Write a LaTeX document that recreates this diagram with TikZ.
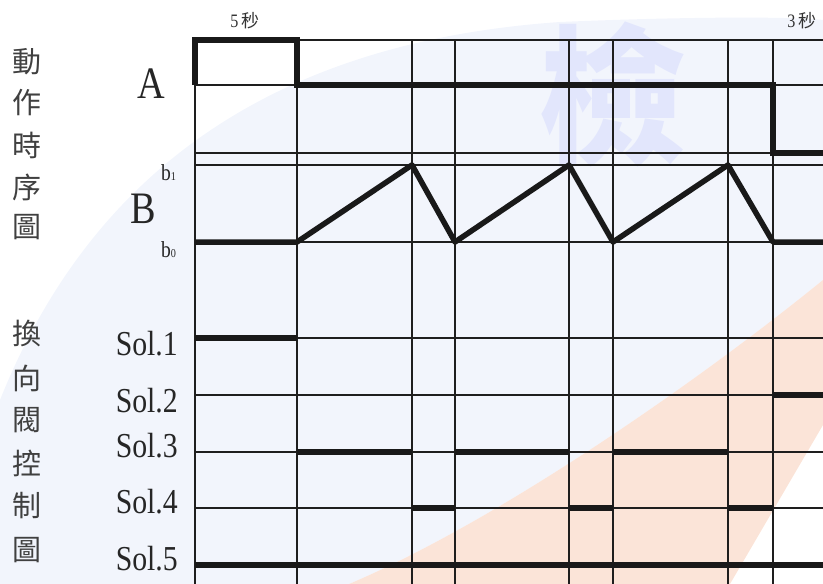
\documentclass[tikz,border=0pt]{standalone}
\usepackage{fontspec}
\setmainfont{Liberation Serif}[FakeStretch=0.85]
\newfontfamily\cjk{Noto Sans CJK TC}
\definecolor{gridc}{RGB}{30,30,30}
\definecolor{sigc}{RGB}{25,25,25}
\definecolor{tintc}{RGB}{242,245,252}
\definecolor{orangec}{RGB}{251,228,216}
\definecolor{wmc}{RGB}{226,230,252}
\begin{document}
\begin{tikzpicture}[x=1pt,y=-1pt,
  grid/.style={line width=1.6pt, draw=gridc},
  sig/.style={line width=5.5pt, draw=sigc, line join=miter},
  zig/.style={line width=5.5pt, draw=sigc, line join=round},
  cjkl/.style={font=\cjk\fontsize{29}{29}\selectfont, inner sep=0pt, text=black!75},
  big/.style={font=\fontsize{45}{45}\selectfont, inner sep=0pt, anchor=base, text=black!85},
  sollab/.style={font=\fontsize{35}{35}\selectfont, inner sep=0pt, anchor=base east, text=black!85},
  blab/.style={font=\fontsize{23}{23}\selectfont, inner sep=0pt, anchor=base west, text=black!85},
  tlab/.style={font=\fontsize{19}{19}\selectfont, inner sep=0pt, anchor=base, text=black!80}]
\useasboundingbox (0,0) rectangle (823,584);
% watermark background
\fill[tintc] (0,400) .. controls (100,150) and (300,40) .. (560,22)
  .. controls (700,16) and (800,17) .. (823,20) -- (823,280)
  .. controls (700,380) and (500,520) .. (349,584) -- (0,584) -- cycle;
\fill[orangec] (349,584) .. controls (500,520) and (700,380) .. (823,280)
  -- (823,425) -- (730,584) -- cycle;
\node[font=\cjk\bfseries\fontsize{150}{150}\selectfont, text=wmc, inner sep=0pt] (wm) at (612,95) {檢};
% grid
\foreach \yy in {85,153,165,242,338,395,452,508,565}
  \draw[grid] (195,\yy) -- (823,\yy);
\draw[grid] (297,40) -- (823,40);
\foreach \xx in {195,297,412,455,569,613,728,773}
  \draw[grid] (\xx,40) -- (\xx,584);
% signal A
\draw[sig] (195,85) -- (195,40) -- (297,40) -- (297,85) -- (773,85) -- (773,153) -- (823,153);
% signal B
\draw[zig] (195,242) -- (297,242) -- (412,165) -- (455,242) -- (569,165) -- (613,242)
  -- (728,165) -- (773,242) -- (823,242);
% solenoids
\draw[sig] (195,338) -- (297,338);
\draw[sig] (773,395) -- (823,395);
\draw[sig] (297,452) -- (412,452);
\draw[sig] (455,452) -- (569,452);
\draw[sig] (613,452) -- (728,452);
\draw[sig] (412,508) -- (455,508);
\draw[sig] (569,508) -- (613,508);
\draw[sig] (728,508) -- (773,508);
\draw[sig] (195,565) -- (823,565);
% labels
\node[tlab] (t5) at (245,27) {5\,{\cjk\fontsize{18}{18}\selectfont 秒}};
\node[tlab] (t3) at (802,27) {3\,{\cjk\fontsize{18}{18}\selectfont 秒}};
\node[big] (lA) at (151,98) {A};
\node[big] (lB) at (143,223) {B};
\node[blab] (lb1) at (161,180) {b{\fontsize{12}{12}\selectfont 1}};
\node[blab] (lb0) at (161,257) {b{\fontsize{12}{12}\selectfont 0}};
\node[sollab] (s1) at (178,355) {Sol.1};
\node[sollab] (s2) at (178,412) {Sol.2};
\node[sollab] (s3) at (178,457) {Sol.3};
\node[sollab] (s4) at (178,513) {Sol.4};
\node[sollab] (s5) at (178,570) {Sol.5};
\node[cjkl] (c1) at (27,62) {動};
\node[cjkl] (c2) at (27,103) {作};
\node[cjkl] (c3) at (27,145) {時};
\node[cjkl] (c4) at (27,187) {序};
\node[cjkl] (c5) at (27,227) {圖};
\node[cjkl] (d1) at (27,333) {換};
\node[cjkl] (d2) at (27,378) {向};
\node[cjkl] (d3) at (27,420) {閥};
\node[cjkl] (d4) at (27,463) {控};
\node[cjkl] (d5) at (27,506) {制};
\node[cjkl] (d6) at (27,550) {圖};
\end{tikzpicture}
\end{document}
